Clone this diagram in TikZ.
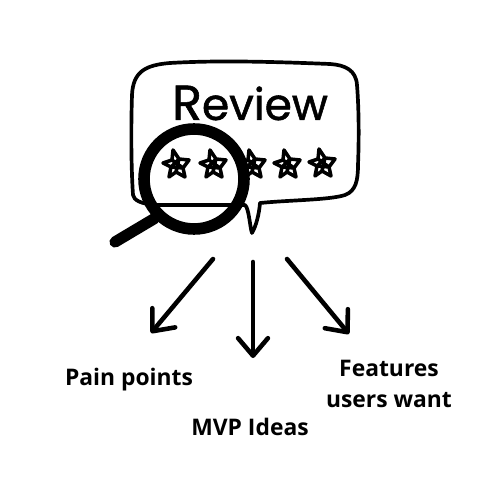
\documentclass[tikz,border=0pt]{standalone}
\usepackage{fontspec}
\usetikzlibrary{arrows.meta}
\setmainfont{Open Sans}[BoldFont=* Bold]
\newfontfamily\handfont[FakeBold=1.2]{Poppins}
\tikzset{
  bubble/.style={line width=2.1pt,line join=round,line cap=round},
  lens/.style={line width=6.6pt},
  handle/.style={line width=6.4pt,line cap=round},
  flow/.style={line width=2.6pt,line cap=round,-{Straight Barb[length=10pt,width=17pt,round]}},
  lbl/.style={font=\bfseries\fontsize{13}{17.6}\selectfont,align=center,inner sep=0pt},
  starline/.style={line width=2pt,line join=round,line cap=round},
  pics/handstar/.style={code={
    \draw[starline] (-3,-13) -- (3,-4) -- (13,-3) -- (7,5) -- (9,14) -- (0,9) -- (-7,14) -- (-5,4) -- (-13,0) -- (-4,-3) -- cycle;
    \draw[starline] (-4,-3) -- (7,5) -- (-5,4) -- (3,-4) -- (0,9);
  }}
}
\begin{document}
\begin{tikzpicture}[x=0.02cm,y=-0.02cm]
\useasboundingbox (0,0) rectangle (500,500);
\fill[white] (0,0) rectangle (500,500);
% speech bubble
\draw[bubble] (157,205) -- (245,205)
  .. controls (249,208) and (250,228) .. (252,233)
  .. controls (256,226) and (259,215) .. (260,203)
  .. controls (290,200) and (330,200) .. (345,195)
  .. controls (356,191) and (358,180) .. (358,165)
  .. controls (359,140) and (359,110) .. (357,85)
  .. controls (356,70) and (345,65) .. (330,64)
  .. controls (280,62) and (220,60) .. (170,63)
  .. controls (145,65) and (133,72) .. (132,95)
  .. controls (131,125) and (131,165) .. (133,195)
  .. controls (134,200) and (140,204) .. (157,205);
% title
\node[inner sep=0pt,font=\handfont\fontsize{25}{30}\selectfont] (title) at (250,103) {\fontsize{28}{30}\selectfont R\fontsize{25}{30}\selectfont eview};
% stars
\pic at (176,163) {handstar};
\pic at (213,163) {handstar};
\pic at (252,163) {handstar};
\pic at (287,163) {handstar};
\pic at (322,162) {handstar};
% magnifier
\node[draw,circle,lens,minimum size=2cm,inner sep=0pt] (glass) at (194,179) {};
\coordinate (grip) at (115,242);
\draw[handle] (glass.225) -- (grip);
% arrows
\coordinate (a1s) at (213,259); \coordinate (a1e) at (151,333);
\coordinate (a2s) at (253,262); \coordinate (a2e) at (253,358);
\coordinate (a3s) at (287,259); \coordinate (a3e) at (349,334);
\draw[flow] (a1s) -- (a1e);
\draw[flow] (a2s) -- (a2e);
\draw[flow] (a3s) -- (a3e);
% labels
\node[lbl] (pain) at (129,380) {Pain points};
\node[lbl] (mvp) at (250,427) {MVP Ideas};
\node[lbl] (feat) at (389,384) {Features\\users want};
\end{tikzpicture}
\end{document}
